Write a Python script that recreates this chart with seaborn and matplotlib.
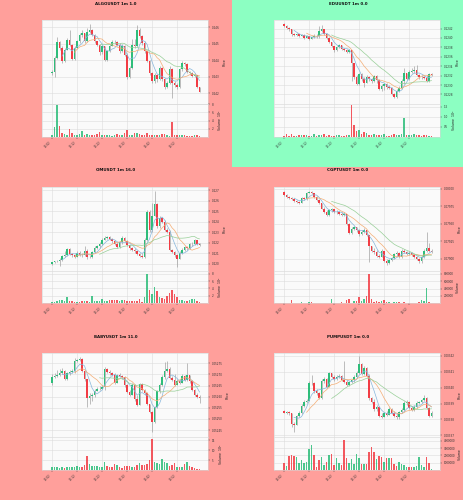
import numpy as np
import pandas as pd
import matplotlib
matplotlib.use("Agg")
import matplotlib.pyplot as plt
from matplotlib.ticker import FixedLocator, FuncFormatter
import seaborn as sns

sns.set_theme(style="whitegrid")
plt.rcParams["font.family"] = ["DejaVu Sans"]

time_labels = ["13:02", "13:12", "13:22", "13:32", "13:42", "13:52"]

# ---------------- ALGOUSDT (prices in 1e-5, volume in 1e5) ----------------
algo_open0 = 24320
algo_close = [24330,24414,24508,24474,24394,24464,24520,24494,24408,24474,
              24514,24550,24564,24514,24574,24584,24554,24514,24494,24448,
              24484,24404,24454,24488,24508,24512,24494,24454,24484,24434,
              24298,24354,24494,24484,24584,24544,24504,24454,24398,24320,
              24274,24308,24284,24354,24284,24240,24264,24348,24264,24252,
              24240,24344,24380,24376,24328,24320,24304,24308,24240,24208]
algo_high = [24340,24424,24540,24514,24484,24474,24534,24584,24498,24484,
             24524,24564,24584,24568,24594,24620,24588,24558,24518,24500,
             24494,24488,24464,24500,24520,24524,24516,24504,24498,24494,
             24444,24364,24528,24528,24614,24594,24554,24514,24464,24404,
             24328,24320,24314,24364,24360,24294,24274,24364,24354,24274,
             24264,24354,24394,24392,24384,24334,24328,24320,24312,24236]
algo_low = [24312,24300,24408,24464,24384,24388,24460,24484,24400,24404,
            24468,24504,24540,24504,24508,24564,24544,24504,24484,24434,
            24440,24394,24398,24448,24484,24500,24484,24444,24448,24424,
            24284,24292,24344,24474,24480,24534,24494,24444,24388,24312,
            24264,24264,24268,24280,24274,24228,24234,24254,24168,24240,
            24228,24234,24334,24364,24320,24312,24296,24300,24232,24204]
algo_volume = [0.3,2.3,7.8,2.7,0.9,0.7,0.5,1.8,1.0,0.4,
               0.35,0.7,1.3,0.4,0.7,0.4,0.3,0.35,0.7,1.1,
               0.5,0.5,0.35,0.3,0.2,0.3,0.7,0.35,0.3,1.0,
               1.6,0.5,0.3,0.9,1.0,0.7,0.35,0.3,0.9,0.5,
               0.35,0.5,0.35,0.5,0.7,0.7,0.4,0.2,3.6,0.3,
               0.3,0.3,0.3,0.35,0.2,0.2,0.2,0.3,0.4,0.1]

# ---------------- EDUUSDT (prices in 1e-6, volume in 1e6) ----------------
edu_open0 = 124298
edu_close = [124263,124214,124186,124081,124067,124074,124046,124060,124004,124032,
             123983,124011,124046,124032,124158,124186,124088,124004,123913,123822,
             123738,123808,123843,123766,123752,123703,123738,123458,123178,123031,
             123227,123136,123052,123171,123122,123094,123192,123101,122926,122982,
             123024,122954,122940,122807,122744,122877,122947,123087,123248,123136,
             123276,123297,123318,123220,123171,123164,123150,123094,123227,123206]
edu_high = [124312,124277,124228,124200,124116,124102,124088,124088,124074,124060,
            124046,124046,124074,124074,124256,124270,124200,124102,124018,123920,
            123836,123836,123871,123857,123794,123766,123766,123752,123472,123206,
            123262,123248,123164,123206,123192,123150,123220,123206,123122,123024,
            123052,123038,123010,122968,122821,122912,122982,123122,123367,123262,
            123318,123367,123402,123416,123234,123206,123192,123206,123248,123248]
edu_low = [124242,124186,124158,124046,124046,124046,124018,124032,123976,123997,
           123962,123976,124004,124004,124004,124137,124060,123976,123892,123801,
           123710,123724,123780,123738,123724,123682,123682,123087,123122,122996,
           122996,123094,122968,123038,123080,123052,123073,123052,122898,122877,
           122898,122926,122912,122786,122716,122716,122856,122926,123017,123108,
           123108,123248,123262,123192,123136,123122,123122,123066,123066,123192]
edu_volume = [0.05,0.15,0.03,0.15,0.05,0.03,0.08,0.08,0.06,0.1,
              0.03,0.02,0.15,0.05,0.1,0.08,0.15,0.05,0.06,0.05,
              0.04,0.06,0.08,0.03,0.04,0.1,0.08,1.57,0.59,0.3,
              0.33,0.12,0.22,0.18,0.1,0.08,0.12,0.1,0.06,0.08,
              0.12,0.05,0.04,0.08,0.12,0.1,0.06,0.12,0.93,0.1,
              0.06,0.08,0.12,0.1,0.06,0.05,0.08,0.06,0.04,0.02]

# ---------------- OMUSDT (prices in 1e-6, volume in 1e5) ----------------
om_open0 = 220000
om_close = [220160,220256,220320,220416,220800,220896,221408,220960,220832,220704,
            221088,220896,220832,221280,220640,220704,221152,221504,221664,221920,
            222304,222464,222560,222368,222144,221920,221600,222048,222496,222144,
            221792,221472,221344,221216,220960,220768,220704,222304,224960,223200,
            224608,225696,223584,224416,224032,223264,223072,221344,221184,220832,
            220512,221088,221344,221568,221472,221856,221920,222240,221920,221760]
om_high = [220224,220320,220416,220544,220896,221280,221536,221472,221088,220960,
           221216,221216,221024,221664,221408,220896,221280,221664,221792,222048,
           222432,222624,222688,222624,222432,222240,222048,222176,222624,222560,
           222240,221920,221600,221472,221280,221088,221088,222496,225184,225120,
           225760,226976,225824,224544,224480,224160,223392,223200,221408,221280,
           220960,221216,221472,221728,221664,221984,222048,222368,222304,221984]
om_low = [219936,220096,220160,219840,220320,220704,220800,220832,220704,220576,
          220640,220768,220704,220768,220512,220576,220608,221088,221408,221536,
          221792,222240,222368,222240,221984,221792,221472,221536,221920,222048,
          221664,221344,221216,221088,220832,220640,220576,220576,222176,223072,
          223072,224544,223456,223456,223904,223136,222944,221216,221024,220704,
          219744,220448,220960,221280,221344,221408,221728,221792,221792,221664]
om_volume = [0.35,0.35,0.5,0.9,0.9,0.6,1.7,0.5,0.5,0.45,
             0.45,0.35,0.5,0.5,0.6,0.45,1.9,0.7,0.5,0.5,
             1.1,0.5,0.6,0.8,0.8,0.8,0.8,0.7,0.8,0.8,
             0.7,0.6,0.5,0.5,0.7,1.1,0.45,1.8,8.0,3.5,
             2.5,4.4,3.3,1.8,1.4,1.15,2.0,2.9,3.7,2.5,
             1.6,0.9,0.8,0.5,0.6,0.9,1.25,1.1,0.5,0.25]

# ---------------- CGPTUSDT (prices in 1e-6, volume in units) ----------------
cgpt_open0 = 79955
cgpt_close = [79907,79883,79859,79845,79826,79811,79797,79859,79845,79941,
              79955,79931,79874,79835,79787,79715,79667,79619,79691,79701,
              79667,79658,79643,79619,79634,79499,79365,79427,79451,79403,
              79346,79379,79403,79331,79173,79115,79091,79043,79029,79106,
              78971,78933,78981,79010,79058,79086,79029,79115,79091,79067,
              79086,79048,79019,78995,78962,79029,79115,79154,79115,79096]
cgpt_high = [79970,79922,79898,79874,79859,79835,79821,79874,79883,79955,
             79970,79965,79941,79893,79854,79797,79730,79691,79710,79720,
             79710,79691,79682,79658,79667,79643,79509,79451,79470,79451,
             79422,79413,79432,79413,79336,79182,79144,79125,79067,79134,
             79115,78995,79000,79029,79077,79106,79096,79134,79134,79115,
             79106,79096,79058,79038,79010,79048,79134,79379,79221,79134]
cgpt_low = [79893,79869,79845,79830,79811,79797,79782,79787,79830,79835,
            79931,79917,79859,79821,79773,79701,79653,79605,79605,79672,
            79653,79643,79629,79605,79605,79480,79346,79346,79403,79384,
            79326,79336,79365,79317,78947,79096,79067,79019,79010,79019,
            78952,78914,78923,78971,78995,79038,79010,79010,79077,79053,
            79048,79034,79005,78981,78942,78942,79010,79096,79096,79082]
cgpt_volume = [15000,10000,10000,90000,20000,20000,15000,30000,20000,20000,
               40000,30000,15000,15000,20000,15000,20000,20000,15000,125000,
               20000,15000,20000,30000,20000,90000,125000,20000,50000,70000,
               160000,70000,110000,210000,800000,125000,40000,50000,35000,50000,
               90000,40000,25000,20000,30000,40000,25000,20000,35000,20000,
               20000,15000,20000,20000,30000,90000,50000,420000,40000,15000]

# ---------------- BABYUSDT (prices in 1e-7, volume in 1e5) ----------------
baby_open0 = 526600
baby_close = [526900,526930,526975,527050,527170,526810,527050,527110,527140,527620,
              527650,527710,527170,526780,525925,526030,526060,526270,526330,526360,
              526420,527230,527095,527050,526990,526630,526960,526915,526870,526525,
              526225,526090,526540,525880,525640,526570,526300,526150,525670,525325,
              524875,525520,526240,526510,526870,527170,527260,526840,526750,526540,
              526720,526630,526945,526765,526960,526690,526300,526090,526000,525940]
baby_high = [527020,527080,527200,527230,527275,527200,527110,527200,527230,527725,
             527710,527800,527740,527200,526810,526150,526180,526360,526420,526480,
             526525,527320,527275,527200,527110,527050,527020,527050,526990,526930,
             526570,526300,526600,526570,526060,526630,526600,526330,526210,525670,
             525370,525580,526300,526600,526960,527575,527620,527320,526930,527020,
             526810,526780,527020,526990,527530,526990,526750,526330,526150,526060]
baby_low = [526525,526825,526870,526930,527020,526750,526750,526990,527050,527080,
            527560,527620,527110,526720,525550,525670,525790,526000,526240,526300,
            526330,526300,527050,526990,526945,526570,526600,526870,526810,526450,
            526150,526030,526060,525820,525580,525610,526240,526090,525610,525280,
            524425,524830,525490,526180,526480,526810,527110,526780,526690,526480,
            526510,526570,526600,526720,526720,526630,526240,526030,525925,525730]
baby_volume = [1.7,1.4,1.4,1.2,1.4,1.2,1.4,1.4,1.5,1.7,
               1.9,1.7,1.4,2.5,7.1,2.9,2.0,2.0,2.2,1.7,
               1.4,4.2,2.0,1.7,1.7,3.0,2.5,1.4,1.0,2.0,
               2.0,2.0,1.7,1.7,2.4,3.7,2.5,2.5,3.0,5.1,
               15.6,4.2,3.7,3.0,5.5,4.0,3.7,2.0,2.5,3.7,
               1.7,1.4,1.7,3.0,4.2,2.0,1.4,1.0,0.7,0.3]

# ---------------- PUMPUSDT (prices in 1e-8, volume in 1e6) ----------------
pump_open0 = 338554
pump_close = [338428,338470,338386,337714,337672,338218,338428,338848,339100,339184,
              340276,340318,339772,339646,339331,340444,340528,340066,340906,340675,
              340528,340696,340738,340486,340381,340171,340360,340465,340675,340927,
              341494,340864,341221,340738,339331,339121,338638,338806,338218,338176,
              338386,338302,338680,338386,338218,338134,338470,338596,339016,339100,
              338722,338596,338785,339037,339100,339205,339352,338701,338218,338428]
pump_high = [338596,338554,338512,338428,337840,338302,338512,338974,339226,339310,
             340444,340801,340360,339898,339730,340570,340696,340591,340990,340948,
             340780,340822,340864,340822,341704,340486,340444,340570,340780,341032,
             341998,341578,341368,341326,340864,339436,339268,338890,338848,338386,
             338470,338512,338764,338722,338512,338386,338554,338722,339142,339226,
             339184,338848,338890,339142,339184,339310,339520,339436,338764,338512]
pump_low = [338386,338344,338302,337546,337231,337630,338134,338344,338764,339016,
            339142,340150,339688,339562,339268,339268,340318,339982,340024,340591,
            340444,340486,340633,340402,340276,340108,340108,340276,340381,340612,
            340864,340780,340780,340654,339226,339016,338554,338554,338134,338092,
            338134,338218,338260,338344,338134,338008,338050,338386,338512,338932,
            338638,338512,338512,338722,338974,339016,339142,338638,338134,338176]
pump_volume = [0.92,0.55,1.9,2.0,1.9,1.85,1.0,1.4,0.9,1.15,
               2.9,3.45,2.0,0.45,1.4,1.75,0.7,1.15,2.1,2.2,
               0.7,1.6,1.0,0.7,4.15,1.6,0.9,1.5,0.8,2.2,
               1.6,0.8,0.8,0.8,2.45,3.1,2.5,1.5,1.9,1.75,
               1.15,1.7,1.6,1.6,0.8,0.6,1.05,0.8,0.7,0.45,
               0.45,0.37,0.45,0.6,1.85,0.7,0.45,1.85,1.0,0.2]

UP = "#2ebd7a"
DOWN = "#f23c44"
WICK = "#9a9a9a"
MA_COLORS = ["#86b6dc", "#f4ad74", "#98cf98"]
MA_WINDOWS = (5, 10, 20)
BG_RED = "#ff9f9b"
BG_GREEN = "#8cffc2"

charts = [
    dict(title="ALGOUSDT 1m 1.0", bg=BG_RED, unit=1e-5, open0=algo_open0, close=algo_close,
         high=algo_high, low=algo_low, vol=algo_volume, vunit=1e5,
         pticks=[0.242, 0.243, 0.244, 0.245, 0.246], pfmt="{:.3f}", plim=(0.24134, 0.24644),
         vticks=[2e5, 4e5, 6e5, 8e5], vdiv=1e5, vfmt="{:.0f}", vtop=8.1e5, vlabel="Volume  $10^{5}$"),
    dict(title="EDUUSDT 1m 0.0", bg=BG_GREEN, unit=1e-6, open0=edu_open0, close=edu_close,
         high=edu_high, low=edu_low, vol=edu_volume, vunit=1e6,
         pticks=[0.1228, 0.1230, 0.1232, 0.1234, 0.1236, 0.1238, 0.1240, 0.1242], pfmt="{:.4f}",
         plim=(0.122597, 0.124382),
         vticks=[0.5e6, 1.0e6, 1.5e6], vdiv=1e6, vfmt="{:.1f}", vtop=1.63e6, vlabel="Volume  $10^{6}$"),
    dict(title="OMUSDT 1m 16.0", bg=BG_RED, unit=1e-6, open0=om_open0, close=om_close,
         high=om_high, low=om_low, vol=om_volume, vunit=1e5,
         pticks=[0.220, 0.221, 0.222, 0.223, 0.224, 0.225, 0.226, 0.227], pfmt="{:.3f}",
         plim=(0.21936, 0.22736),
         vticks=[2e5, 4e5, 6e5, 8e5], vdiv=1e5, vfmt="{:.0f}", vtop=8.8e5, vlabel="Volume  $10^{5}$"),
    dict(title="CGPTUSDT 1m 0.0", bg=BG_RED, unit=1e-6, open0=cgpt_open0, close=cgpt_close,
         high=cgpt_high, low=cgpt_low, vol=cgpt_volume, vunit=1,
         pticks=[0.07900, 0.07925, 0.07950, 0.07975, 0.08000], pfmt="{:.5f}",
         plim=(0.078827, 0.080027),
         vticks=[2e5, 4e5, 6e5, 8e5], vdiv=1, vfmt="{:.0f}", vtop=8.9e5, vlabel="Volume"),
    dict(title="BABYUSDT 1m 11.0", bg=BG_RED, unit=1e-7, open0=baby_open0, close=baby_close,
         high=baby_high, low=baby_low, vol=baby_volume, vunit=1e5,
         pticks=[0.05245, 0.05250, 0.05255, 0.05260, 0.05265, 0.05270, 0.05275], pfmt="{:.5f}",
         plim=(0.0524170, 0.0527950),
         vticks=[5e5, 10e5, 15e5], vdiv=1e5, vfmt="{:.0f}", vtop=16.6e5, vlabel="Volume  $10^{5}$"),
    dict(title="PUMPUSDT 1m 0.0", bg=BG_RED, unit=1e-8, open0=pump_open0, close=pump_close,
         high=pump_high, low=pump_low, vol=pump_volume, vunit=1e6,
         pticks=[0.00337, 0.00338, 0.00339, 0.00340, 0.00341, 0.00342], pfmt="{:.5f}",
         plim=(0.00336874, 0.00342166),
         vticks=[1e6, 2e6, 3e6, 4e6], vdiv=1, vfmt="{:.0f}", vtop=4.5e6, vlabel="Volume"),
]

TICK_FS = 2.0
fig = plt.figure(figsize=(4.64, 5.0), dpi=100)
subfigs = fig.subfigures(3, 2, wspace=0, hspace=0)

for sf, c in zip(subfigs.flat, charts):
    sf.set_facecolor(c["bg"])
    close = np.array(c["close"], dtype=float) * c["unit"]
    high = np.array(c["high"], dtype=float) * c["unit"]
    low = np.array(c["low"], dtype=float) * c["unit"]
    opn = np.r_[c["open0"] * c["unit"], close[:-1]]
    vol = np.array(c["vol"], dtype=float) * c["vunit"]
    idx = np.arange(len(close))
    up = close >= opn

    axp = sf.add_axes([0.18, 0.376, 0.718, 0.504])
    axv = sf.add_axes([0.18, 0.18, 0.718, 0.196], sharex=axp)

    # candles
    lo_b = np.minimum(opn, close)
    hi_b = np.maximum(opn, close)
    minh = (c["plim"][1] - c["plim"][0]) * 0.004
    axp.vlines(idx, np.minimum(low, lo_b), np.maximum(high, hi_b), color=WICK, lw=0.45, zorder=2)
    axp.bar(idx, np.maximum(hi_b - lo_b, minh), bottom=lo_b, width=0.65,
            color=np.where(up, UP, DOWN), lw=0, zorder=3)

    # moving averages
    for w, col in zip(MA_WINDOWS, MA_COLORS):
        ma = pd.Series(close).rolling(w).mean()
        mdf = pd.DataFrame({"i": idx, "ma": ma}).dropna()
        sns.lineplot(data=mdf, x="i", y="ma", ax=axp, color=col, lw=0.5, zorder=4)

    # volume
    vdf = pd.DataFrame({"i": idx, "v": vol, "dir": np.where(up, "up", "down")})
    sns.barplot(data=vdf, x="i", y="v", hue="dir", palette={"up": UP, "down": DOWN},
                native_scale=True, width=0.65, legend=False, ax=axv, dodge=False,
                saturation=1, alpha=0.85, linewidth=0)

    for ax in (axp, axv):
        ax.set_facecolor("#fafafa")
        ax.yaxis.tick_right()
        ax.yaxis.set_label_position("right")
        ax.grid(True, color="#dcdcdc", lw=0.4)
        ax.set_axisbelow(True)
        for s in ax.spines.values():
            s.set_color("#d5d5d5")
            s.set_linewidth(0.4)
        ax.tick_params(labelsize=TICK_FS, length=1.2, width=0.3, pad=1.2,
                       colors="#333333", right=True, bottom=True, left=False)

    axp.set_ylim(*c["plim"])
    axp.yaxis.set_major_locator(FixedLocator(c["pticks"]))
    axp.yaxis.set_major_formatter(FuncFormatter(lambda v, p, f=c["pfmt"]: f.format(v)))
    axp.set_ylabel("Price", fontsize=2.3, labelpad=2)
    axp.set_xlabel("")
    axp.tick_params(axis="x", labelbottom=False)

    axv.set_ylim(0, c["vtop"])
    axv.yaxis.set_major_locator(FixedLocator(c["vticks"]))
    axv.yaxis.set_major_formatter(FuncFormatter(lambda v, p, d=c["vdiv"], f=c["vfmt"]: f.format(v / d)))
    axv.set_ylabel(c["vlabel"], fontsize=2.3, labelpad=2)
    axv.set_xlabel("")
    axv.set_xticks(range(0, 60, 10))
    axv.set_xticklabels(time_labels, rotation=45, ha="right", fontsize=TICK_FS)
    axv.set_xlim(-4.1, 62.5)

    sf.text(0.5, 0.99, c["title"], ha="center", va="top", fontsize=2.9, weight="bold",
            color="#111111")

fig.savefig("out.png", dpi=100)
